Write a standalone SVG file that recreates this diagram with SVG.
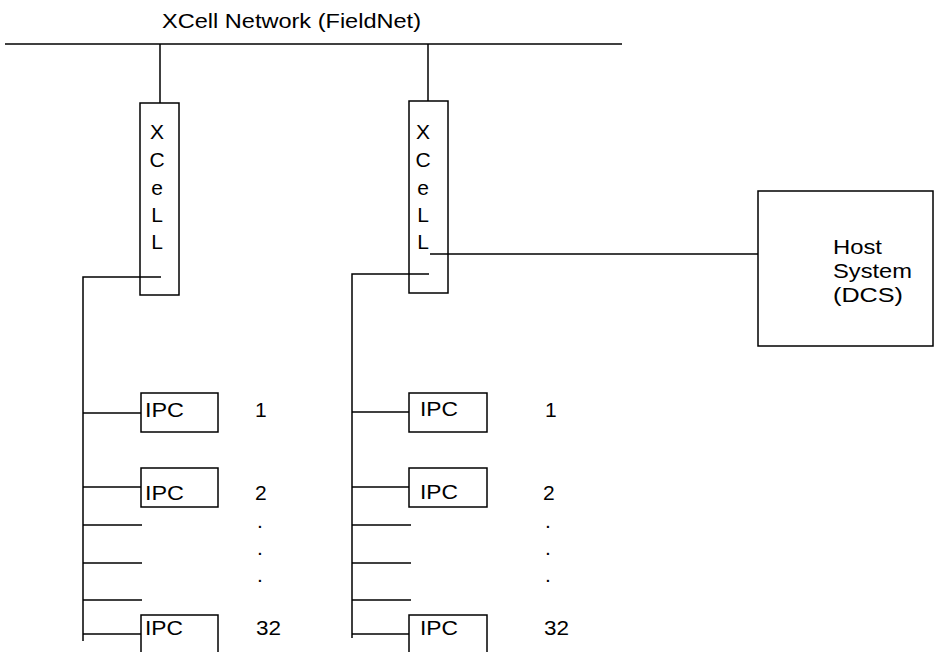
<svg xmlns="http://www.w3.org/2000/svg" width="934" height="652" viewBox="0 0 934 652">
<style>
  .ln { stroke: #000; stroke-width: 1.5; fill: none; }
  text { font-family: "Liberation Sans", Arial, sans-serif; font-size: 21px; fill: #000; }
  .mid { text-anchor: middle; }
</style>
<rect width="934" height="652" fill="#fff"/>
<g id="connectors">
  <line class="ln" x1="5" y1="44" x2="622" y2="44"/>
  <line class="ln" x1="160" y1="44" x2="160" y2="103"/>
  <line class="ln" x1="428" y1="44" x2="428" y2="101"/>
  <polyline class="ln" points="161,277 83,277 83,641"/>
  <line class="ln" x1="83" y1="413" x2="141" y2="413"/>
  <line class="ln" x1="83" y1="487" x2="141" y2="487"/>
  <line class="ln" x1="83" y1="525" x2="142" y2="525"/>
  <line class="ln" x1="83" y1="563" x2="142" y2="563"/>
  <line class="ln" x1="83" y1="600" x2="142" y2="600"/>
  <line class="ln" x1="83" y1="634" x2="141" y2="634"/>
  <polyline class="ln" points="429,274 352,274 352,638"/>
  <line class="ln" x1="352" y1="412" x2="409" y2="412"/>
  <line class="ln" x1="352" y1="487" x2="409" y2="487"/>
  <line class="ln" x1="352" y1="525" x2="411" y2="525"/>
  <line class="ln" x1="352" y1="563" x2="411" y2="563"/>
  <line class="ln" x1="352" y1="600" x2="411" y2="600"/>
  <line class="ln" x1="352" y1="634" x2="409" y2="634"/>
  <line class="ln" x1="430" y1="254" x2="758" y2="254"/>
</g>
<text x="162" y="28" textLength="259" lengthAdjust="spacingAndGlyphs">XCell Network (FieldNet)</text>
<g id="xcell1">
  <rect class="ln" x="140" y="103" width="39" height="192"/>
  <text class="mid" x="157" y="139">X</text>
  <text class="mid" x="157" y="167">C</text>
  <text class="mid" x="157" y="195">e</text>
  <text class="mid" x="157" y="222">L</text>
  <text class="mid" x="157" y="249">L</text>
</g>
<g id="xcell2">
  <rect class="ln" x="409" y="101" width="39" height="192"/>
  <text class="mid" x="423" y="139">X</text>
  <text class="mid" x="423" y="167">C</text>
  <text class="mid" x="423" y="195">e</text>
  <text class="mid" x="423" y="222">L</text>
  <text class="mid" x="423" y="249">L</text>
</g>
<g id="host">
  <rect class="ln" x="758" y="191" width="175" height="155"/>
  <text x="833" y="254" textLength="49" lengthAdjust="spacingAndGlyphs">Host</text>
  <text x="833" y="278" textLength="79" lengthAdjust="spacingAndGlyphs">System</text>
  <text x="833" y="302" textLength="70" lengthAdjust="spacingAndGlyphs">(DCS)</text>
</g>
<g id="ipc-l1">
  <rect class="ln" x="141" y="393" width="77" height="39"/>
  <text x="145" y="417" textLength="39" lengthAdjust="spacingAndGlyphs">IPC</text>
  <text x="255" y="417">1</text>
</g>
<g id="ipc-l2">
  <rect class="ln" x="141" y="468" width="77" height="39"/>
  <text x="145" y="500" textLength="39" lengthAdjust="spacingAndGlyphs">IPC</text>
  <text x="255" y="500">2</text>
</g>
<g id="dots-l">
  <text x="257" y="528">.</text>
  <text x="257" y="555">.</text>
  <text x="257" y="582">.</text>
</g>
<g id="ipc-l32">
  <rect class="ln" x="141" y="615" width="77" height="50"/>
  <text x="145" y="635" textLength="38" lengthAdjust="spacingAndGlyphs">IPC</text>
  <text x="256" y="635" textLength="25" lengthAdjust="spacingAndGlyphs">32</text>
</g>
<g id="ipc-r1">
  <rect class="ln" x="409" y="393" width="78" height="39"/>
  <text x="420" y="416" textLength="38" lengthAdjust="spacingAndGlyphs">IPC</text>
  <text x="545" y="417">1</text>
</g>
<g id="ipc-r2">
  <rect class="ln" x="409" y="468" width="78" height="39"/>
  <text x="420" y="499" textLength="38" lengthAdjust="spacingAndGlyphs">IPC</text>
  <text x="543" y="500">2</text>
</g>
<g id="dots-r">
  <text x="545" y="528">.</text>
  <text x="545" y="555">.</text>
  <text x="545" y="582">.</text>
</g>
<g id="ipc-r32">
  <rect class="ln" x="409" y="615" width="78" height="50"/>
  <text x="420" y="635" textLength="38" lengthAdjust="spacingAndGlyphs">IPC</text>
  <text x="544" y="635" textLength="25" lengthAdjust="spacingAndGlyphs">32</text>
</g>
</svg>
